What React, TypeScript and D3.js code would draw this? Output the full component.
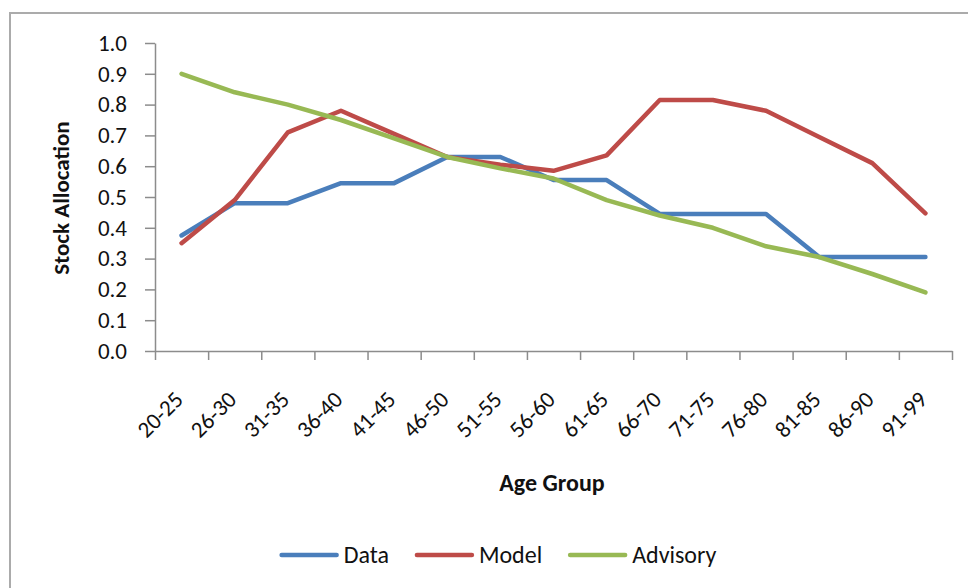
import { useEffect, useRef } from 'react';
import * as d3 from 'd3';

// age groups on the x axis
const ageGroups = [
  '20-25', '26-30', '31-35', '36-40', '41-45', '46-50', '51-55', '56-60',
  '61-65', '66-70', '71-75', '76-80', '81-85', '86-90', '91-99',
];

// stock allocation share per age group
const dataSeries = [0.375, 0.48, 0.48, 0.545, 0.545, 0.63, 0.63, 0.555, 0.555, 0.445, 0.445, 0.445, 0.305, 0.305, 0.305];
const modelSeries = [0.35, 0.49, 0.71, 0.78, 0.705, 0.63, 0.605, 0.585, 0.635, 0.815, 0.815, 0.78, 0.695, 0.61, 0.447];
const advisorySeries = [0.90, 0.84, 0.80, 0.75, 0.69, 0.63, 0.593, 0.56, 0.49, 0.44, 0.40, 0.34, 0.305, 0.25, 0.19];

const seriesNames = ['Data', 'Model', 'Advisory'];
const seriesColors = ['#4A7EBB', '#BE4B48', '#98B954'];

const yTicks = [0, 0.1, 0.2, 0.3, 0.4, 0.5, 0.6, 0.7, 0.8, 0.9, 1.0];

const FONT = 'Carlito, Calibri, Lato, sans-serif';

export default function App() {
  const svgRef = useRef<SVGSVGElement>(null);

  useEffect(() => {
    if (!svgRef.current) return;
    const root = d3.select(svgRef.current);
    root.selectAll('*').remove();

    const width = 968;
    const height = 588;
    const plot = { left: 155, right: 952, top: 43, bottom: 351 };

    // chart frame
    root.append('rect')
      .attr('x', 10)
      .attr('y', 13)
      .attr('width', width + 20)
      .attr('height', height + 20)
      .attr('fill', '#fff')
      .attr('stroke', '#ababab')
      .attr('stroke-width', 2);

    const x = d3.scalePoint<string>()
      .domain(ageGroups)
      .range([plot.left, plot.right])
      .padding(0.5);

    // boundaries between categories (for tick marks)
    const xEdge = d3.scaleLinear()
      .domain([0, ageGroups.length])
      .range([plot.left, plot.right]);

    const y = d3.scaleLinear()
      .domain([0, 1])
      .range([plot.bottom, plot.top]);

    const g = root.append('g');

    // Y axis
    const yAxis = g.append('g')
      .attr('transform', `translate(${plot.left},0)`)
      .call(d3.axisLeft(y)
        .tickValues(yTicks)
        .tickFormat(d3.format('.1f'))
        .tickSize(10)
        .tickSizeOuter(0)
        .tickPadding(18));
    yAxis.select('.domain').attr('stroke', '#8c8c8c').attr('stroke-width', 1.5);
    yAxis.selectAll('line').attr('stroke', '#8c8c8c').attr('stroke-width', 1.5);
    yAxis.selectAll('text')
      .style('font-family', FONT)
      .style('font-size', '23px')
      .attr('fill', '#111');

    // X axis (ticks at category boundaries)
    const xAxis = g.append('g')
      .attr('transform', `translate(0,${plot.bottom})`)
      .call(d3.axisBottom(xEdge)
        .tickValues(d3.range(ageGroups.length + 1))
        .tickFormat(() => '')
        .tickSize(9)
        .tickSizeOuter(0));
    xAxis.select('.domain').attr('stroke', '#8c8c8c').attr('stroke-width', 1.5);
    xAxis.selectAll('line').attr('stroke', '#8c8c8c').attr('stroke-width', 1.5);

    // rotated category labels
    g.append('g')
      .selectAll('text')
      .data(ageGroups)
      .enter()
      .append('text')
      .attr('transform', d => `translate(${(x(d) || 0) + 3},${plot.bottom + 50}) rotate(-45)`)
      .attr('text-anchor', 'end')
      .style('font-family', FONT)
      .style('font-size', '23px')
      .attr('fill', '#111')
      .text(d => d);

    // axis titles
    g.append('text')
      .attr('transform', `translate(69,198) rotate(-90)`)
      .attr('text-anchor', 'middle')
      .style('font-family', FONT)
      .style('font-size', '23px')
      .style('font-weight', 'bold')
      .attr('fill', '#111')
      .text('Stock Allocation');

    g.append('text')
      .attr('x', 552)
      .attr('y', 491)
      .attr('text-anchor', 'middle')
      .style('font-family', FONT)
      .style('font-size', '24px')
      .style('font-weight', 'bold')
      .attr('fill', '#111')
      .text('Age Group');

    // series lines
    const allSeries = [dataSeries, modelSeries, advisorySeries];
    const line = d3.line<number>()
      .x((_, i) => x(ageGroups[i]) || 0)
      .y(d => y(d));

    allSeries.forEach((s, i) => {
      g.append('path')
        .datum(s)
        .attr('d', line)
        .attr('fill', 'none')
        .attr('stroke', seriesColors[i])
        .attr('stroke-width', 4.5)
        .attr('stroke-linejoin', 'round')
        .attr('stroke-linecap', 'round');
    });

    // legend, centred below the axis title
    const legend = g.append('g');
    const lineLen = 55;
    const gap = 7;
    const itemGap = 28;
    let cursor = 0;
    seriesNames.forEach((name, i) => {
      const item = legend.append('g').attr('transform', `translate(${cursor},0)`);
      item.append('line')
        .attr('x1', 0)
        .attr('x2', lineLen)
        .attr('y1', 0)
        .attr('y2', 0)
        .attr('stroke', seriesColors[i])
        .attr('stroke-width', 4.5)
        .attr('stroke-linecap', 'round');
      const t = item.append('text')
        .attr('x', lineLen + gap)
        .attr('dy', '0.35em')
        .style('font-family', FONT)
        .style('font-size', '24px')
        .attr('fill', '#111')
        .text(name);
      const w = (t.node() as SVGTextElement).getComputedTextLength();
      cursor += lineLen + gap + w + itemGap;
    });
    const total = cursor - itemGap;
    legend.attr('transform', `translate(${499 - total / 2},555)`);
  }, []);

  return (
    <svg
      ref={svgRef}
      width={968}
      height={588}
      style={{ position: 'absolute', left: 0, top: 0, background: '#fff' }}
    />
  );
}
